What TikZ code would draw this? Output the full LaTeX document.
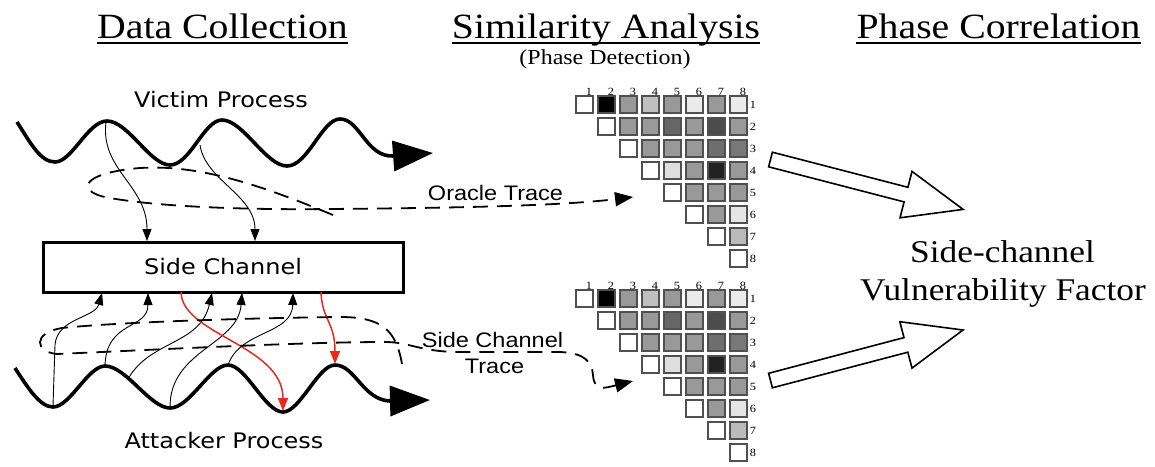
\documentclass[tikz,border=0pt]{standalone}
\usepackage{fontspec}
\setmainfont{Liberation Serif}[FakeStretch=1.12]
\newfontfamily\verdsans{DejaVu Sans}[FakeStretch=1.12]
\newfontfamily\helvsans{Liberation Sans}[FakeStretch=1.12]
\usetikzlibrary{arrows.meta}
\definecolor{sigred}{RGB}{235,40,30}
\definecolor{cellline}{RGB}{80,80,80}
\tikzset{
  heading/.style={font=\fontsize{35.5}{40}\selectfont, inner sep=0pt, anchor=base},
  subheading/.style={font=\fontsize{21.4}{24}\selectfont, inner sep=0pt, anchor=base},
  procwave/.style={line width=3.6pt, line join=round, -{Triangle[length=40pt,width=30pt]}},
  proclabel/.style={font=\verdsans\fontsize{21.4}{25}\selectfont, inner sep=0pt, anchor=base},
  tracelabel/.style={font=\helvsans\fontsize{21}{25}\selectfont, inner sep=0pt, anchor=base},
  leak/.style={line width=0.9pt, -{Triangle[length=12pt,width=9pt]}},
  leakred/.style={draw=sigred, line width=1.5pt, -{Triangle[length=13pt,width=10pt]}},
  tracepath/.style={line width=1.8pt, dash pattern=on 15pt off 9pt, -{Triangle[length=18pt,width=14pt]}},
  cell/.style={draw=cellline, line width=1.2pt},
  idx/.style={font=\fontsize{11}{12}\selectfont, inner sep=0pt},
  bigarrow/.style={draw, line width=1.6pt, fill=white, line join=miter},
  result/.style={font=\fontsize{31.6}{36}\selectfont, inner sep=0pt, anchor=base},
}
\begin{document}
\begin{tikzpicture}[x=1pt,y=-1pt]
\fill[white] (0,0) rectangle (1155,466);
\useasboundingbox (0,0) rectangle (1155,466);

% ---- column headings
\node[heading] (hdc) at (222.5,38) {Data Collection};
\node[heading] (hsa) at (606,38) {Similarity Analysis};
\node[heading] (hpc) at (998.5,38) {Phase Correlation};
\foreach \h in {hdc,hsa,hpc}
  \draw[line width=2pt] ([yshift=-5pt]\h.base west) -- ([yshift=-5pt]\h.base east);
\node[subheading] (hpd) at (605,64) {(Phase Detection)};

% ---- victim process
\node[proclabel] (vp) at (221,107) {Victim Process};
\draw[procwave] (17,122) .. controls (30,142) and (40,162) .. (55,162)
  .. controls (72,162) and (88,121) .. (107,121)
  .. controls (128,121) and (150,165) .. (170,165)
  .. controls (190,165) and (204,120) .. (222,120)
  .. controls (243,120) and (266,166) .. (287,166)
  .. controls (308,166) and (322,119) .. (340,119)
  .. controls (360,119) and (366,157) .. (393,156)
  -- (433,153);

% ---- side channel
\node[draw, line width=3pt, minimum width=360pt, minimum height=50pt, inner sep=0pt,
      font=\verdsans\fontsize{21.4}{25}\selectfont] (sc) at (223,267) {Side Channel};

% ---- attacker process
\node[proclabel] (ap) at (224,448) {Attacker Process};
\draw[procwave] (15,368) .. controls (28,388) and (40,407) .. (53,407)
  .. controls (70,407) and (88,366) .. (105,366)
  .. controls (126,366) and (150,408) .. (170,408)
  .. controls (190,408) and (210,365) .. (228,365)
  .. controls (246,365) and (265,412) .. (283,412)
  .. controls (300,412) and (318,365) .. (335,365)
  .. controls (355,365) and (363,400) .. (390,401)
  -- (430,400);

% points on the waves and on the side channel box
\coordinate (v1) at (106,122);
\coordinate (v2) at (200,145);
\coordinate (vin1) at (147,241);
\coordinate (vin2) at (255,241);
\coordinate (a1) at (53,406);
\coordinate (a2) at (105,366);
\coordinate (a3) at (128,379);
\coordinate (a4) at (170,407);
\coordinate (a5) at (228,365);
\coordinate (aout1) at (102,293);
\coordinate (aout2) at (148,293);
\coordinate (aout3) at (212,293);
\coordinate (aout4) at (242,293);
\coordinate (aout5) at (293,293);
\coordinate (rout1) at (181,292);
\coordinate (rout2) at (321,292);
\coordinate (ain1) at (283,411);
\coordinate (ain2) at (335,364);

% ---- victim activity leaking into the side channel
\draw[leak] (v1) .. controls (100,170) and (147,185) .. (vin1);
\draw[leak] (v2) .. controls (205,180) and (255,195) .. (vin2);

% ---- attacker probes
\draw[leak] (a1) -- (55,345) .. controls (57,318) and (95,318) .. (aout1);
\draw[leak] (a2) .. controls (106,320) and (148,330) .. (aout2);
\draw[leak] (a3) .. controls (150,340) and (200,345) .. (aout3);
\draw[leak] (a4) .. controls (170,350) and (238,345) .. (aout4);
\draw[leak] (a5) .. controls (240,330) and (292,335) .. (aout5);
\draw[leakred] (rout1) .. controls (182,335) and (283,345) .. (ain1);
\draw[leakred] (rout2) .. controls (322,320) and (335,322) .. (ain2);

% ---- traces
\coordinate (oratip) at (633,197);
\coordinate (sctip) at (633,381);
\draw[tracepath] (333,215) .. controls (260,185) and (180,155) .. (108,173)
  .. controls (78,181) and (84,194) .. (110,198)
  .. controls (160,207) and (250,210) .. (330,209)
  .. controls (450,208) and (560,206) .. (oratip);
\node[tracelabel] (ot) at (495.5,200) {Oracle Trace};

\draw[tracepath] (402,364) .. controls (396,330) and (382,317) .. (340,317)
  .. controls (250,318) and (120,322) .. (62,328)
  .. controls (32,333) and (35,352) .. (57,354)
  .. controls (150,350) and (300,342) .. (385,342)
  .. controls (410,342) and (420,352) .. (460,352)
  -- (560,352)
  .. controls (585,353) and (592,362) .. (593,375)
  .. controls (594,392) and (605,388) .. (sctip);
\node[tracelabel] (sct1) at (492.5,347) {Side Channel};
\node[tracelabel] (sct2) at (494.5,373) {Trace};

% ---- similarity matrices (upper triangle)
\foreach \my/\mtag in {96/a, 290/b} {
  \foreach \r/\vals in {1/{0,100,40,25,40,8,40,8},
                        2/{0,40,40,60,40,70,40},
                        3/{0,40,40,40,57,53},
                        4/{0,13,40,87,40},
                        5/{0,40,40,40},
                        6/{0,40,10},
                        7/{0,27},
                        8/{0}} {
    \foreach \v [count=\k] in \vals {
      \pgfmathsetmacro\cx{576+22*(\r+\k-2)}
      \pgfmathsetmacro\cy{\my+22*(\r-1)}
      \filldraw[cell, fill=black!\v] (\cx,\cy) rectangle ++(17,17);
    }
  }
  \foreach \k in {1,...,8} {
    \node[idx, anchor=base] (m\mtag c\k) at ({576+22*(\k-1)+13},{\my-0.5}) {\k};
    \node[idx] (m\mtag r\k) at (753,{\my+22*(\k-1)+8.5}) {\k};
  }
}

% ---- correlation arrows
\draw[bigarrow] (772.4,152.2) -- (907.9,187.3) -- (912.0,171.4) -- (963.1,209.4)
  -- (900.0,217.8) -- (904.1,201.9) -- (768.6,166.8) -- cycle;
\draw[bigarrow] (768.6,373.3) -- (904.0,337.6) -- (899.8,321.7) -- (963.0,330.0)
  -- (912.0,368.1) -- (907.8,352.2) -- (772.4,387.8) -- cycle;

% ---- result
\node[result] (svf1) at (1002.5,262) {Side-channel};
\node[result] (svf2) at (1003,300) {Vulnerability Factor};
\end{tikzpicture}
\end{document}
